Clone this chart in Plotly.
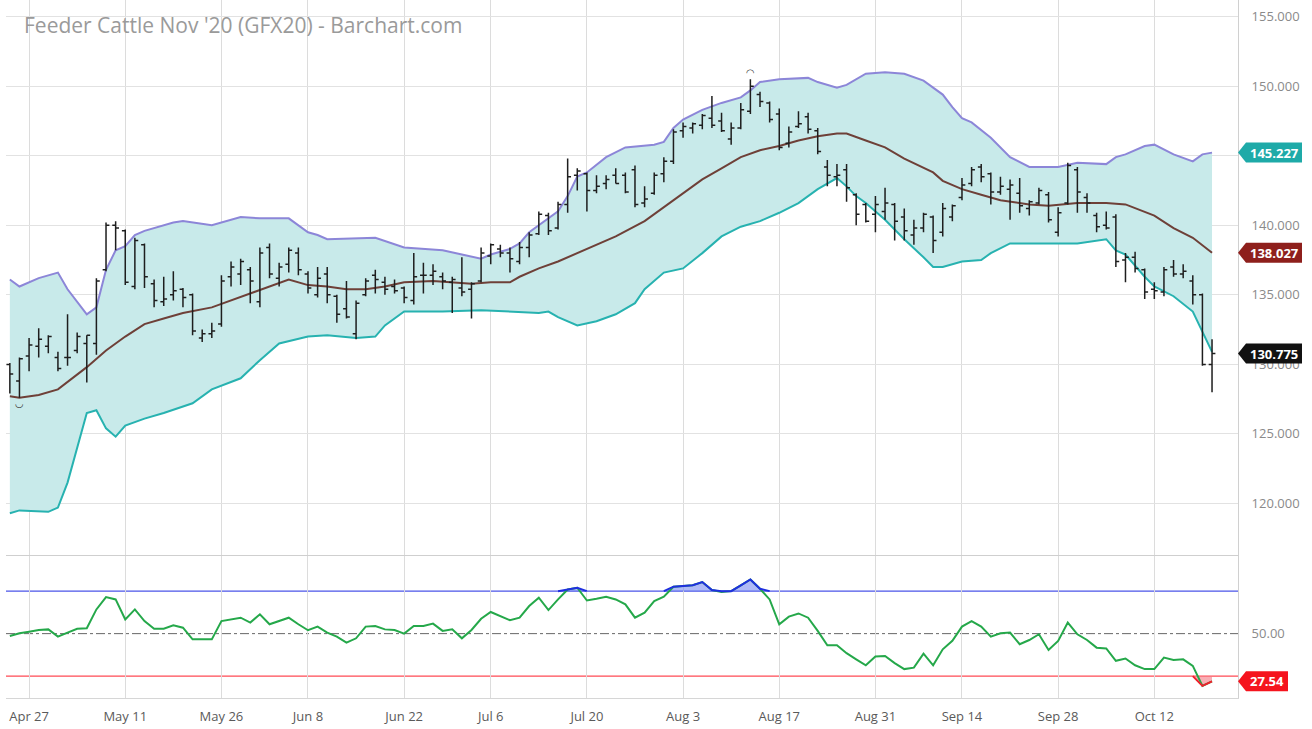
import plotly.graph_objects as go
import pandas as pd

title_text = "Feeder Cattle Nov '20 (GFX20) - Barchart.com"

# trading days shown (CME closed on the three holidays)
holidays = ["2020-05-25", "2020-07-03", "2020-09-07"]
days = [d.strftime("%Y-%m-%d") for d in pd.bdate_range("2020-04-23", "2020-10-20")]
days = [d for d in days if d not in holidays]
day_no = list(range(len(days)))

tick_dates = ["2020-04-27", "2020-05-11", "2020-05-26", "2020-06-08", "2020-06-22",
              "2020-07-06", "2020-07-20", "2020-08-03", "2020-08-17", "2020-08-31",
              "2020-09-14", "2020-09-28", "2020-10-12"]
tick_labels = ["Apr 27", "May 11", "May 26", "Jun 8", "Jun 22", "Jul 6", "Jul 20",
               "Aug 3", "Aug 17", "Aug 31", "Sep 14", "Sep 28", "Oct 12"]
price_ticks = [120, 125, 130, 135, 140, 145, 150, 155]

opens = [130.0, 128.8, 130.6, 131.3, 131.3, 130.5, 130.5, 131.0, 131.5, 131.5,
         136.8, 140.0, 139.6, 135.6, 138.6, 135.8, 134.5, 135.0, 135.4, 135.0,
         131.9, 132.2, 132.9, 136.3, 136.5, 136.8, 134.5, 138.4, 136.2, 137.2,
         138.0, 136.5, 135.0, 136.5, 134.9, 134.0, 132.2, 135.0, 136.4, 135.9,
         135.6, 135.5, 134.6, 136.4, 136.4, 136.3, 135.9, 135.5, 135.4, 136.0,
         137.8, 138.3, 138.0, 137.4, 138.4, 139.4, 140.7, 139.8, 141.5, 143.6,
         143.7, 142.5, 143.0, 143.6, 143.6, 144.0, 141.6, 142.3, 143.7, 144.6,
         146.8, 147.0, 147.2, 147.7, 147.5, 146.2, 147.0, 148.2, 149.4, 148.8,
         148.0, 145.9, 147.1, 147.8, 146.8, 144.2, 143.5, 144.0, 142.2, 141.5,
         140.8, 141.0, 141.5, 140.6, 139.3, 139.8, 140.6, 139.5, 140.6, 142.0,
         143.0, 144.2, 143.7, 142.4, 142.6, 142.3, 141.2, 141.6, 142.2, 139.5,
         141.6, 144.0, 142.0, 140.7, 140.0, 140.6, 137.5, 137.7, 136.8, 135.4,
         135.2, 137.0, 136.5, 136.0, 135.0, 130.0]
highs = [130.1, 130.5, 131.9, 132.6, 132.1, 130.9, 133.6, 132.3, 132.1, 136.2,
         140.2, 140.3, 139.7, 139.1, 138.7, 136.1, 136.3, 136.7, 135.5, 135.1,
         132.5, 133.0, 136.4, 137.4, 137.6, 137.0, 138.4, 138.7, 137.3, 138.4,
         138.4, 136.7, 137.0, 137.0, 135.0, 136.0, 134.6, 136.2, 136.8, 136.3,
         136.1, 135.6, 138.0, 137.3, 137.2, 136.6, 136.3, 137.7, 135.9, 138.4,
         138.7, 138.6, 138.4, 138.8, 139.5, 141.0, 140.9, 141.7, 144.8, 144.1,
         143.8, 143.6, 143.6, 144.1, 143.8, 144.3, 142.8, 143.8, 144.9, 146.9,
         147.4, 147.4, 148.0, 149.3, 148.1, 147.4, 148.8, 150.5, 149.6, 148.9,
         148.4, 147.1, 148.2, 148.1, 147.0, 144.7, 144.4, 144.4, 142.3, 141.6,
         142.1, 142.7, 141.6, 141.2, 140.4, 140.9, 140.7, 141.6, 141.5, 143.4,
         144.2, 144.4, 143.8, 143.5, 143.3, 143.4, 141.8, 142.7, 142.4, 141.3,
         144.5, 144.2, 142.3, 140.9, 141.0, 140.8, 138.0, 138.1, 136.9, 135.9,
         137.0, 137.5, 137.2, 136.4, 135.1, 131.8]
lows = [127.9, 127.6, 129.5, 130.5, 130.8, 129.5, 129.9, 130.8, 128.7, 130.7,
        136.7, 138.2, 135.7, 135.4, 135.5, 134.1, 134.2, 134.6, 134.1, 132.1,
        131.6, 131.9, 132.7, 135.6, 135.7, 134.4, 134.1, 136.2, 135.6, 136.6,
        136.4, 135.1, 134.8, 134.4, 133.0, 133.3, 131.8, 134.9, 135.1, 135.0,
        135.1, 134.4, 134.3, 135.1, 135.7, 135.4, 133.7, 134.9, 133.3, 135.9,
        137.2, 137.7, 136.6, 137.2, 137.7, 139.3, 139.3, 139.7, 140.9, 142.5,
        141.0, 142.3, 142.6, 143.0, 142.3, 141.3, 141.3, 142.2, 143.1, 144.4,
        146.3, 146.6, 146.9, 147.0, 146.7, 145.8, 146.9, 148.0, 148.5, 147.4,
        145.4, 145.6, 147.0, 146.6, 145.1, 142.8, 142.8, 141.7, 140.0, 140.2,
        139.5, 140.4, 138.9, 138.9, 138.6, 139.5, 138.0, 139.2, 140.3, 141.8,
        142.8, 143.1, 141.5, 142.2, 140.4, 140.9, 140.7, 141.5, 140.2, 139.2,
        141.5, 140.9, 140.9, 139.5, 139.7, 137.0, 135.9, 136.6, 134.7, 134.7,
        134.9, 136.3, 136.2, 134.3, 129.9, 128.0]
closes = [129.3, 130.4, 131.4, 131.8, 132.0, 129.7, 130.5, 132.0, 132.1, 136.0,
          140.0, 139.8, 135.9, 138.9, 136.3, 134.6, 134.7, 135.3, 134.8, 132.4,
          132.2, 132.4, 136.0, 137.0, 137.4, 136.0, 138.0, 136.5, 137.0, 138.2,
          136.8, 135.5, 136.2, 135.0, 133.6, 133.4, 134.4, 136.0, 136.1, 135.4,
          135.3, 134.8, 136.3, 136.4, 136.7, 136.0, 136.1, 135.2, 135.8, 138.0,
          138.6, 138.0, 137.6, 138.4, 139.3, 140.8, 139.6, 141.5, 143.5, 143.9,
          142.5, 142.8, 143.3, 143.0, 142.4, 141.5, 141.9, 143.6, 144.6, 146.7,
          147.1, 147.3, 147.9, 147.2, 146.8, 147.0, 148.3, 150.0, 148.9, 147.6,
          145.6, 146.7, 147.3, 146.9, 145.3, 143.6, 143.6, 142.7, 140.8, 140.3,
          141.5, 141.6, 140.3, 139.6, 139.8, 140.8, 138.9, 141.2, 141.4, 142.9,
          144.0, 143.5, 142.4, 142.8, 142.9, 141.4, 141.7, 142.5, 140.4, 140.9,
          144.3, 142.4, 141.6, 139.9, 139.8, 137.4, 137.7, 136.9, 135.2, 135.3,
          136.8, 136.5, 136.7, 135.0, 130.0, 130.775]

# Bollinger bands (trading-day number, value)
upper_at = [0, 1, 3, 5, 6, 8, 9, 10, 11, 12, 13, 14, 17, 18, 21, 24, 26, 29, 31, 32,
            33, 38, 41, 45, 49, 50, 52, 53, 54, 55, 57, 58, 59, 60, 62, 64, 67, 68, 69, 70,
            72, 74, 76, 77, 78, 80, 83, 84, 86, 87, 89, 91, 93, 95, 97, 98, 99, 100, 102, 104,
            106, 109, 111, 114, 115, 116, 118, 119, 121, 123, 124, 125]
upper_val = [136.1, 135.6, 136.2, 136.6, 135.4, 133.6, 134.1, 136.8, 138.2, 138.5,
             139.3, 139.6, 140.2, 140.3, 140.0, 140.6, 140.5, 140.5, 139.5, 139.3,
             139.0, 139.1, 138.4, 138.2, 137.6, 137.9, 138.3, 138.7, 139.5, 140.0,
             141.0, 142.1, 143.5, 143.8, 144.9, 145.6, 145.8, 146.0, 147.0, 147.6,
             148.3, 148.8, 149.2, 149.7, 150.3, 150.5, 150.6, 150.3, 149.9, 150.1,
             150.9, 151.0, 150.9, 150.4, 149.4, 148.5, 147.7, 147.4, 146.3, 144.9,
             144.2, 144.2, 144.5, 144.4, 144.9, 145.1, 145.7, 145.8, 145.1, 144.6,
             145.1, 145.227]
middle_at = [0, 1, 3, 5, 8, 10, 12, 14, 16, 18, 21, 23, 25, 26, 28, 29, 31, 33, 35, 37,
             39, 41, 44, 46, 48, 50, 52, 53, 55, 57, 60, 63, 66, 68, 70, 72, 74, 76, 78, 80,
             82, 84, 86, 87, 89, 91, 93, 96, 97, 99, 101, 103, 106, 108, 111, 114, 116, 119, 121, 123,
             125]
middle_val = [127.7, 127.6, 127.8, 128.2, 129.8, 131.0, 132.0, 132.9, 133.3, 133.7,
              134.1, 134.6, 135.1, 135.4, 135.9, 136.1, 135.7, 135.6, 135.4, 135.4,
              135.6, 135.9, 136.0, 135.9, 135.8, 135.9, 135.9, 136.3, 136.9, 137.4,
              138.3, 139.2, 140.3, 141.3, 142.3, 143.3, 144.1, 144.9, 145.4, 145.7,
              146.1, 146.4, 146.6, 146.6, 146.1, 145.6, 144.8, 143.8, 143.2, 142.6,
              142.2, 141.8, 141.5, 141.4, 141.6, 141.6, 141.5, 140.7, 139.8, 139.1,
              138.027]
lower_at = [0, 1, 4, 5, 6, 8, 9, 10, 11, 12, 14, 16, 19, 21, 24, 26, 28, 31, 33, 36,
            38, 39, 41, 45, 49, 55, 56, 57, 59, 61, 63, 65, 66, 68, 70, 72, 74, 76, 78, 80,
            82, 84, 86, 87, 88, 89, 91, 93, 95, 96, 97, 99, 101, 102, 104, 107, 111, 114, 115, 116,
            118, 119, 121, 123, 124, 125]
lower_val = [119.3, 119.5, 119.4, 119.7, 121.5, 126.5, 126.7, 125.4, 124.8, 125.6,
             126.1, 126.5, 127.2, 128.2, 129.0, 130.3, 131.5, 132.0, 132.1, 131.9,
             132.0, 132.8, 133.8, 133.8, 133.9, 133.7, 133.8, 133.4, 132.8, 133.1,
             133.6, 134.4, 135.4, 136.6, 136.9, 138.0, 139.2, 139.9, 140.3, 140.9,
             141.6, 142.6, 143.4, 142.8, 142.1, 141.6, 140.4, 139.0, 137.7, 137.0,
             137.0, 137.4, 137.5, 138.0, 138.7, 138.7, 138.7, 139.0, 138.2, 137.9,
             136.3, 135.6, 134.9, 133.8, 132.3, 130.9]

rsi = [48.9, 50.2, 50.9, 51.7, 52.0, 48.6, 50.5, 52.3, 52.5, 61.4,
       67.2, 66.1, 56.7, 61.4, 55.9, 52.3, 52.3, 53.9, 52.8, 47.3,
       47.3, 47.3, 55.9, 56.7, 57.5, 55.2, 59.1, 54.4, 55.9, 57.5,
       54.4, 51.6, 53.3, 50.5, 48.6, 45.8, 47.8, 53.3, 53.6, 52.0,
       51.7, 50.0, 53.6, 53.6, 54.7, 51.3, 52.0, 47.8, 51.7, 57.0,
       60.2, 58.3, 56.3, 57.5, 63.0, 66.9, 61.1, 66.1, 70.8, 71.6,
       65.6, 66.4, 67.4, 66.1, 63.8, 57.5, 59.9, 65.3, 67.4, 72.1,
       72.4, 72.8, 74.3, 70.5, 69.6, 70.0, 72.7, 75.5, 71.1, 66.1,
       54.4, 58.0, 59.5, 57.5, 51.3, 44.5, 44.5, 40.8, 37.9, 35.1,
       39.2, 39.5, 36.1, 33.3, 34.0, 40.6, 35.1, 42.6, 46.6, 53.3,
       55.9, 53.3, 48.6, 50.2, 50.5, 45.0, 47.0, 49.7, 42.3, 46.6,
       55.2, 49.7, 47.0, 43.4, 43.0, 37.2, 38.3, 35.1, 33.3, 33.3,
       38.7, 37.6, 37.9, 34.8, 25.4, 27.54]
rsi_high, rsi_mid, rsi_low = 70, 50, 30

pos = {d: i for i, d in enumerate(days)}
tick_pos = [pos[d] for d in tick_dates]
n = len(days)

fig = go.Figure()

# bands
fig.add_trace(go.Scatter(x=upper_at, y=upper_val, mode="lines",
                         line=dict(color="#8c86d8", width=2), hoverinfo="skip"))
fig.add_trace(go.Scatter(x=lower_at, y=lower_val, mode="lines", fill="tonexty",
                         fillcolor="#c8eaea", line=dict(color="#27b2b0", width=2),
                         hoverinfo="skip"))
fig.add_trace(go.Scatter(x=middle_at, y=middle_val, mode="lines",
                         line=dict(color="#6e4038", width=2), hoverinfo="skip"))

# price bars on an overlay axis so they sit above the band fill
fig.add_trace(go.Ohlc(x=day_no, open=opens, high=highs, low=lows, close=closes,
                      increasing=dict(line=dict(color="#1e1e1e", width=1.5)),
                      decreasing=dict(line=dict(color="#1e1e1e", width=1.5)),
                      tickwidth=0.35, xaxis="x", yaxis="y3"))

# RSI pane
over = [max(v, rsi_high) for v in rsi]
under = [min(v, rsi_low) for v in rsi]
fig.add_trace(go.Scatter(x=day_no, y=[rsi_high] * n, mode="lines", line=dict(width=0),
                         xaxis="x2", yaxis="y2", hoverinfo="skip"))
fig.add_trace(go.Scatter(x=day_no, y=over, mode="lines", line=dict(width=0), fill="tonexty",
                         fillcolor="rgba(110,130,240,0.55)", xaxis="x2", yaxis="y2",
                         hoverinfo="skip"))
fig.add_trace(go.Scatter(x=day_no, y=[rsi_low] * n, mode="lines", line=dict(width=0),
                         xaxis="x2", yaxis="y2", hoverinfo="skip"))
fig.add_trace(go.Scatter(x=day_no, y=under, mode="lines", line=dict(width=0), fill="tonexty",
                         fillcolor="rgba(245,120,130,0.6)", xaxis="x2", yaxis="y2",
                         hoverinfo="skip"))
fig.add_trace(go.Scatter(x=day_no, y=rsi, mode="lines", line=dict(color="#25a84a", width=2),
                         xaxis="x2", yaxis="y2"))

hi_seg = [v if (v > rsi_high or (i > 0 and rsi[i - 1] > rsi_high) or
                (i < n - 1 and rsi[i + 1] > rsi_high)) else None
          for i, v in enumerate(over)]
lo_seg = [v if (v < rsi_low or (i > 0 and rsi[i - 1] < rsi_low) or
                (i < n - 1 and rsi[i + 1] < rsi_low)) else None
          for i, v in enumerate(under)]
fig.add_trace(go.Scatter(x=day_no, y=hi_seg, mode="lines", line=dict(color="#1f2fe0", width=2),
                         xaxis="x2", yaxis="y2", hoverinfo="skip"))
fig.add_trace(go.Scatter(x=day_no, y=lo_seg, mode="lines", line=dict(color="#f0202c", width=2),
                         xaxis="x2", yaxis="y2", hoverinfo="skip"))

# level lines
fig.add_shape(type="line", xref="x2 domain", yref="y2", x0=0, x1=1, y0=rsi_high, y1=rsi_high,
              line=dict(color="#4b55e8", width=1.3), layer="below")
fig.add_shape(type="line", xref="x2 domain", yref="y2", x0=0, x1=1, y0=rsi_low, y1=rsi_low,
              line=dict(color="#ff4a55", width=1.3), layer="below")
fig.add_shape(type="line", xref="x2 domain", yref="y2", x0=0, x1=1, y0=rsi_mid, y1=rsi_mid,
              line=dict(color="#666666", width=1, dash="dashdot"), layer="below")


def value_tag(value, text, color, yref, width):
    path = "M0,0 L8,10 L{w},10 L{w},-10 L8,-10 Z".format(w=width)
    fig.add_shape(type="path", xref="paper", yref=yref, xsizemode="pixel",
                  ysizemode="pixel", xanchor=1, yanchor=value, path=path,
                  fillcolor=color, line=dict(width=0), layer="above")
    fig.add_annotation(xref="paper", yref=yref, x=1, y=value, text="<b>" + text + "</b>",
                       showarrow=False, xanchor="center", xshift=8 + (width - 8) / 2,
                       font=dict(color="white", size=13, family="Open Sans"))


value_tag(upper_val[-1], "145.227", "#1eaaa8", "y", 64)
value_tag(middle_val[-1], "138.027", "#8e1f1c", "y", 64)
value_tag(closes[-1], "130.775", "#111111", "y", 64)
value_tag(rsi[-1], "27.54", "#f5141e", "y2", 50)

# pivot marks
fig.add_annotation(x=77, y=highs[77], yref="y", text="◠", showarrow=False, yshift=7,
                   font=dict(size=10, color="#333", family="DejaVu Sans"))
fig.add_annotation(x=1, y=lows[1], yref="y", text="◡", showarrow=False, yshift=-6,
                   font=dict(size=10, color="#333", family="DejaVu Sans"))

fig.add_annotation(xref="paper", yref="paper", x=0.013, y=1, xanchor="left", yanchor="top",
                   yshift=-9, text=title_text, showarrow=False,
                   font=dict(size=21, color="#9a9a9a", family="Open Sans"))

fig.update_layout(
    width=1312, height=729,
    margin=dict(l=6, r=74, t=0, b=31),
    paper_bgcolor="white", plot_bgcolor="white",
    showlegend=False,
    font=dict(family="Open Sans", color="#8a8a8a", size=13),
    xaxis=dict(domain=[0, 1], anchor="y", range=[-0.4, 127.7], tickvals=tick_pos,
               showticklabels=False, showgrid=True, gridcolor="#dcdcdc", zeroline=False,
               showline=True, linecolor="#cfcfcf", rangeslider=dict(visible=False)),
    xaxis2=dict(domain=[0, 1], anchor="y2", matches="x", tickvals=tick_pos,
                ticktext=tick_labels, showgrid=True, gridcolor="#dcdcdc", zeroline=False,
                ticks="outside", ticklen=6, tickcolor="rgba(0,0,0,0)",
                showline=True, linecolor="#d6d6d6",
                tickfont=dict(color="#5a5a5a", size=13)),
    yaxis=dict(domain=[0.205, 1], anchor="x", side="right", range=[116.3, 156.2],
               tickvals=price_ticks, tickformat=".3f", showgrid=True, gridcolor="#e2e2e2",
               zeroline=False, showline=True, linecolor="#d0d0d0",
               ticks="outside", ticklen=10, tickcolor="rgba(0,0,0,0)"),
    yaxis3=dict(overlaying="y", matches="y", anchor="x", side="right", visible=False,
                showgrid=False, zeroline=False),
    yaxis2=dict(domain=[0, 0.203], anchor="x2", side="right", range=[19.7, 86.4],
                tickvals=[rsi_mid], ticktext=["50.00"], showgrid=False, zeroline=False,
                showline=True, linecolor="#d0d0d0",
                ticks="outside", ticklen=10, tickcolor="rgba(0,0,0,0)"),
)

fig.write_html("out.html", config={"displayModeBar": False},
               post_script="document.body.style.margin='0';")
